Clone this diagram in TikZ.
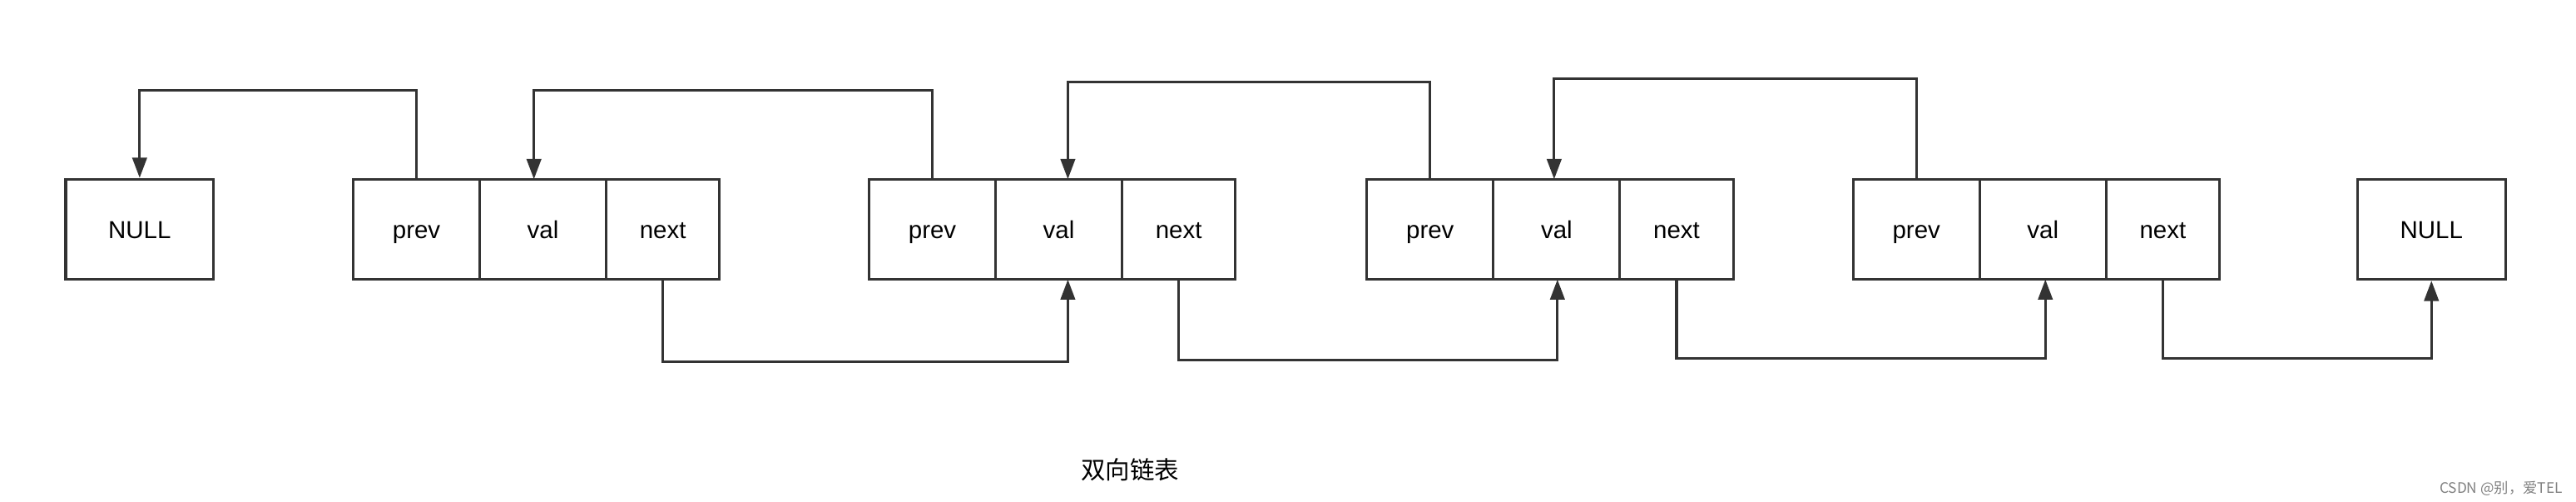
\documentclass[tikz,border=0pt]{standalone}
\usepackage{fontspec}
\setmainfont{Liberation Sans}
\newfontfamily\cjk{Noto Sans CJK SC}
\usetikzlibrary{arrows.meta}
\tikzset{
  cell/.style={draw=black!80, line width=0.9pt, minimum height=1.22cm, inner sep=0pt, text height=1.6ex, text depth=0.4ex, font=\fontsize{8.5}{10}\selectfont},
  link/.style={draw=black!80, line width=0.9pt, -{Triangle[length=7pt,width=5pt]}},
}
\begin{document}
\begin{tikzpicture}[x=0.02cm,y=-0.02cm]
  \useasboundingbox (0,0) rectangle (1568,305);
  \node[cell, minimum width=1.8cm] (null1) at (85,139.5) {NULL};
  \node[cell, minimum width=1.8cm] (null2) at (1480,139.5) {NULL};
  % nodes of the list
  \foreach \i/\x in {1/215,2/529,3/832,4/1128}
  {
    \node[cell, minimum width=1.54cm] (prev\i) at (\x+38.5,139.5) {prev};
    \node[cell, minimum width=1.54cm] (val\i) at (\x+115.5,139.5) {val};
    \node[cell, minimum width=1.38cm] (next\i) at (\x+188.5,139.5) {next};
  }
  % prev pointers
  \draw[link] (prev1.north) |- (85,55) -- (null1.north);
  \draw[link] (prev2.north) |- (325,55) -- (325,109);
  \draw[link] (prev3.north) |- (650,50) -- (650,109);
  \draw[link] (prev4.north) |- (946,48) -- (946,109);
  % next pointers
  \draw[link] (next1.south) |- (650,220) -- (650,170);
  \draw[link] (next2.south) |- (948,219) -- (948,170);
  \draw[link] (next3.south) |- (1245,218) -- (1245,170);
  \draw[link] (next4.south) |- (1480,218) -- (null2.south);
  \node[font=\cjk\fontsize{8.5}{10}\selectfont] (title) at (688,286) {双向链表};
  \node[font=\cjk\fontsize{5}{6}\selectfont, text=black!50, anchor=east] (mark) at (1566,297) {CSDN @别，爱TEL};
\end{tikzpicture}
\end{document}
